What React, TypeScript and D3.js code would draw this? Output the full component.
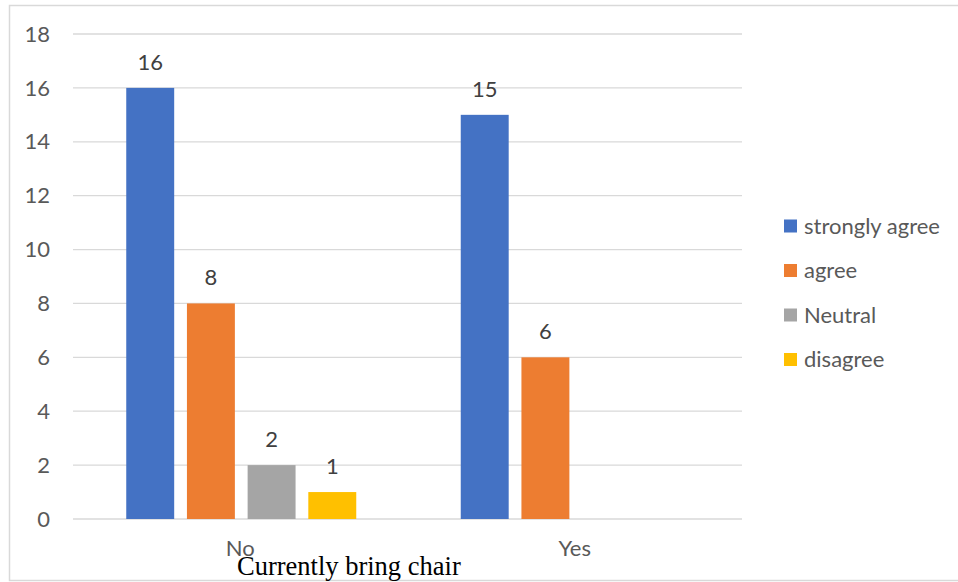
import React, { useEffect, useRef } from "react";
import * as d3 from "d3";

const categories = ["No", "Yes"];
const seriesNames = ["strongly agree", "agree", "Neutral", "disagree"];
const seriesColors = ["#4472C4", "#ED7D31", "#A5A5A5", "#FFC000"];
const noValues = [16, 8, 2, 1];
const yesValues = [15, 6, null, null];
const yTicks = [0, 2, 4, 6, 8, 10, 12, 14, 16, 18];

const W = 958;
const H = 582;

const App = () => {
  const ref = useRef<SVGSVGElement>(null);

  useEffect(() => {
    const svg = d3.select(ref.current);
    svg.selectAll("*").remove();

    const font = "Lato, 'Open Sans', sans-serif";
    const fs = 22;
    const rows = [noValues, yesValues];

    // chart border (right edge runs off the picture)
    svg.append("path")
      .attr("d", `M${W + 2},5.5 H9.5 V580.5 H${W + 2}`)
      .attr("fill", "none")
      .attr("stroke", "#d9d9d9")
      .attr("stroke-width", 1.5);

    const x = d3.scaleBand().domain(categories).range([73, 742]);
    const inner = d3.scaleBand()
      .domain(seriesNames)
      .range([0, 230])
      .paddingInner(0.21);
    const y = d3.scaleLinear().domain([0, 18]).range([519, 34]);

    // gridlines
    svg.append("g")
      .selectAll("line")
      .data(yTicks)
      .join("line")
      .attr("x1", 73)
      .attr("x2", 742)
      .attr("y1", d => y(d))
      .attr("y2", d => y(d))
      .attr("stroke", "#d9d9d9")
      .attr("stroke-width", 1.3);

    // y tick labels
    svg.append("g")
      .selectAll("text")
      .data(yTicks)
      .join("text")
      .attr("x", 50)
      .attr("y", d => y(d))
      .attr("dy", "0.35em")
      .attr("text-anchor", "end")
      .attr("fill", "#595959")
      .style("font", `${fs}px ${font}`)
      .text(d => d);

    // bars + labels
    const groups = svg.append("g")
      .selectAll("g")
      .data(categories)
      .join("g")
      .attr("transform", d => `translate(${x(d)! + x.bandwidth() / 2 - 114},0)`);

    groups.each(function (cat, ci) {
      const g = d3.select(this);
      const vals = seriesNames
        .map((s, si) => ({ s, si, v: rows[ci][si] }))
        .filter(d => d.v != null) as { s: string; si: number; v: number }[];

      g.selectAll("rect")
        .data(vals)
        .join("rect")
        .attr("x", d => inner(d.s)!)
        .attr("y", d => y(d.v))
        .attr("width", inner.bandwidth())
        .attr("height", d => y(0) - y(d.v))
        .attr("fill", d => seriesColors[d.si]);

      g.selectAll("text")
        .data(vals)
        .join("text")
        .attr("x", d => inner(d.s)! + inner.bandwidth() / 2)
        .attr("y", d => y(d.v) - 18)
        .attr("text-anchor", "middle")
        .attr("fill", "#404040")
        .style("font", `${fs}px ${font}`)
        .text(d => d.v);
    });

    // category labels
    svg.append("g")
      .selectAll("text")
      .data(categories)
      .join("text")
      .attr("x", d => x(d)! + x.bandwidth() / 2)
      .attr("y", 556)
      .attr("text-anchor", "middle")
      .attr("fill", "#595959")
      .style("font", `${fs}px ${font}`)
      .text(d => d);

    // axis title
    svg.append("text")
      .attr("x", 237)
      .attr("y", 575)
      .attr("fill", "#000")
      .style("font", "26.5px 'Liberation Serif', 'Times New Roman', serif")
      .text("Currently bring chair");

    // legend
    const leg = svg.append("g")
      .selectAll("g")
      .data(seriesNames)
      .join("g")
      .attr("transform", (d, i) => `translate(784,${226 + i * 44.5})`);

    leg.append("rect")
      .attr("x", 0)
      .attr("y", -6.5)
      .attr("width", 13)
      .attr("height", 13)
      .attr("fill", (d, i) => seriesColors[i]);

    leg.append("text")
      .attr("x", 20)
      .attr("dy", "0.35em")
      .attr("fill", "#595959")
      .style("font", `${fs}px ${font}`)
      .text(d => d);
  }, []);

  return (
    <svg
      ref={ref}
      width={W}
      height={H}
      style={{ position: "absolute", left: 0, top: 0, background: "#fff" }}
    />
  );
};

export default App;
